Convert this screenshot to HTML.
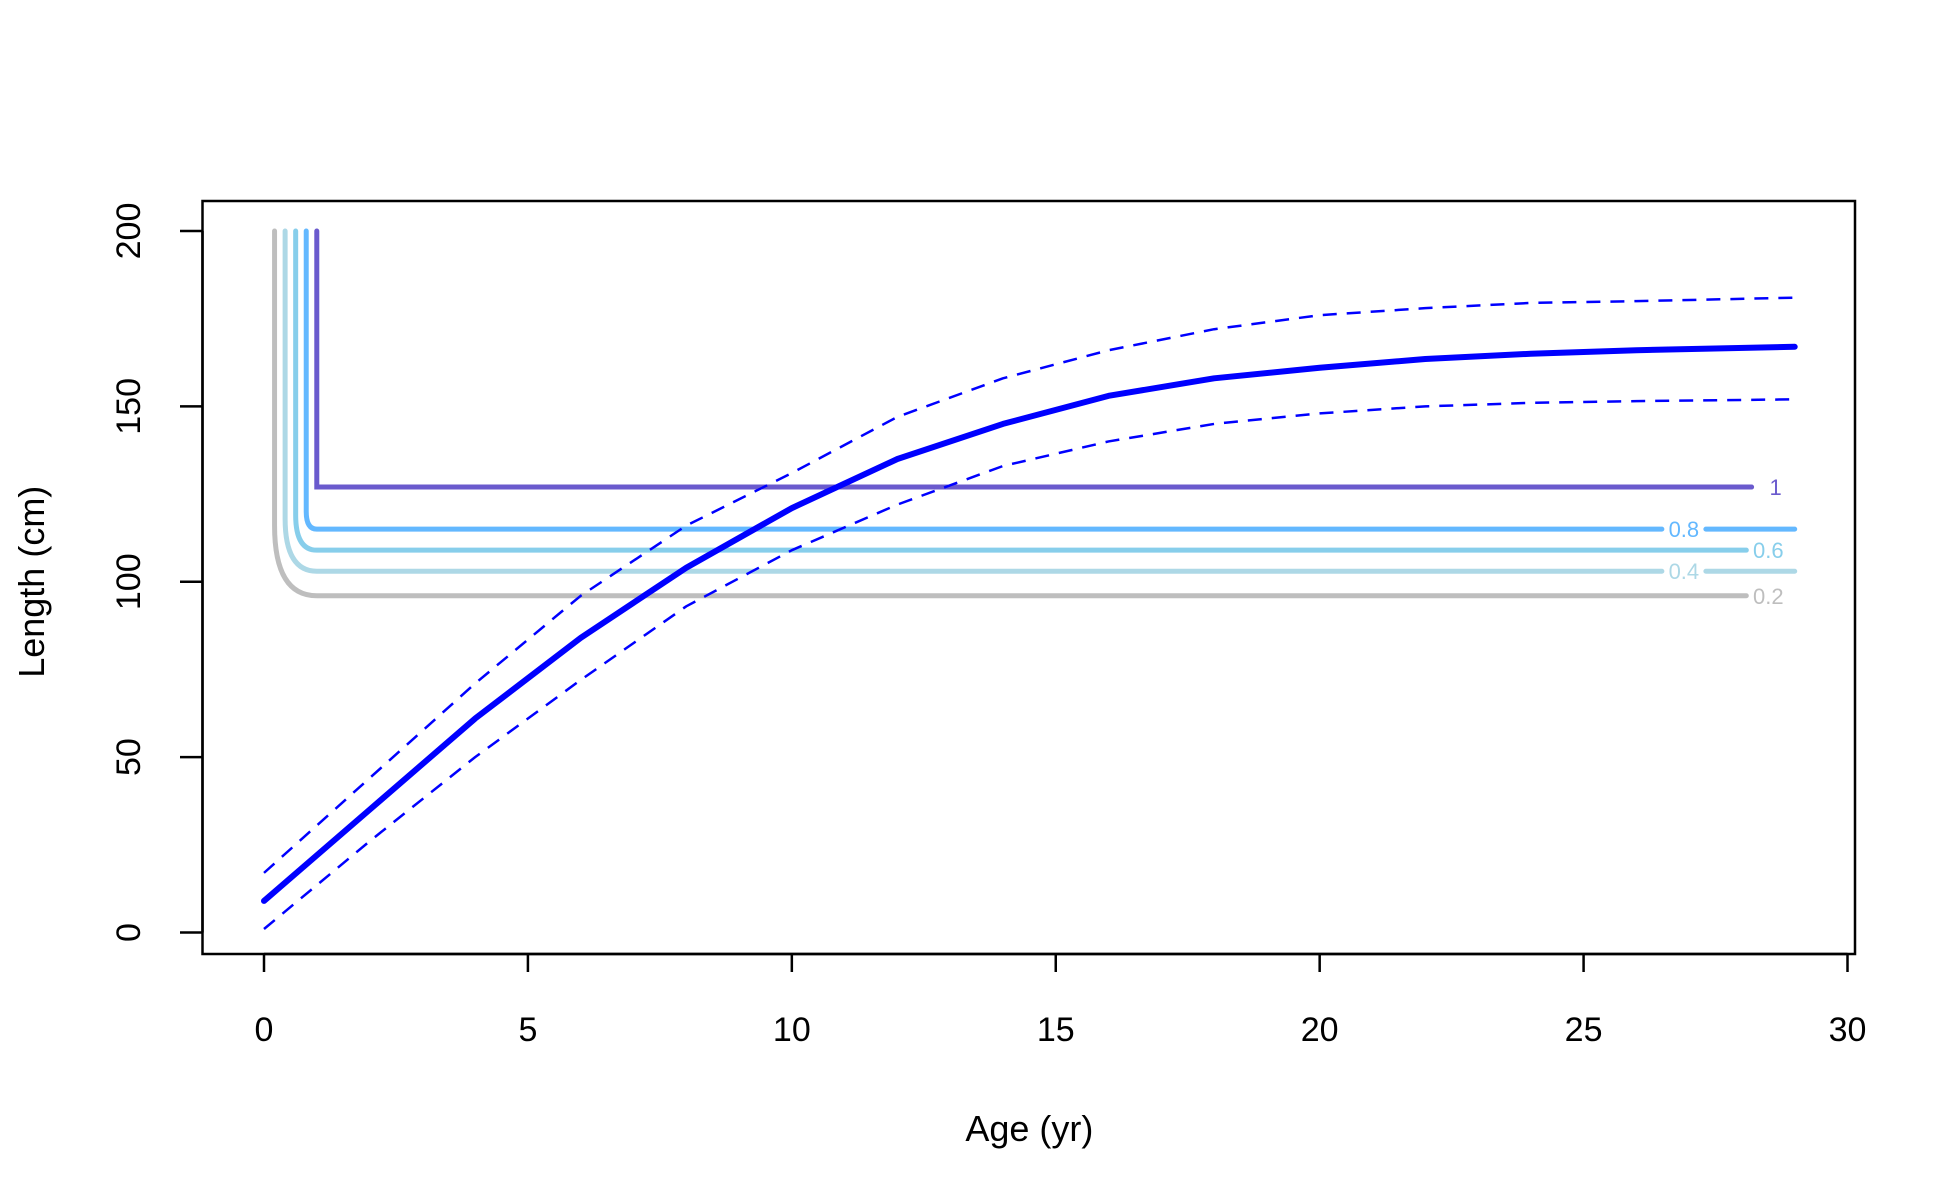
<!DOCTYPE html>
<html><head><meta charset="utf-8"><style>body{margin:0;background:#fff}svg{display:block}text{font-family:"Liberation Sans",Arial,sans-serif}</style></head>
<body>
<svg id="chart" width="1950" height="1200" viewBox="0 0 1950 1200" xmlns="http://www.w3.org/2000/svg">
<rect x="0" y="0" width="1950" height="1200" fill="#fff"/>
<g id="plot"></g>
</svg>
<script>
const ages=[0,2,4,6,8,10,12,14,16,18,20,22,24,26,29];
const meanLen=[9,35,61,84,104,121,135,145,153,158,161,163.5,165,166,167];
const upperLen=[17,44,71,96,116,131,147,158,166,172,176,178,179.5,180,181];
const lowerLen=[1,26,50,72,93,109,122,133,140,145,148,150,151,151.5,152];
const selLabels=["0.2","0.4","0.6","0.8","1"];
const selStartAge=[0.2,0.4,0.6,0.8,1.0];
const selLevel=[96,103,109,115,127];
const selColors=["#bebebe","#add8e6","#87ceeb","#63b8ff","#6a5acd"];
const selLabelAge=[28.5,26.9,28.5,26.9,28.6];
const selGap=[false,true,false,true,false];
const xTicks=[0,5,10,15,20,25,30];
const yTicks=[0,50,100,150,200];

const X=a=>264+a*(1847.5-264)/30;
const Y=v=>932.5-v*(932.5-231)/200;
const NS="http://www.w3.org/2000/svg";
const g=document.getElementById('plot');
function el(t,at,name){const e=document.createElementNS(NS,t);for(const k in at)e.setAttribute(k,at[k]);


g.appendChild(e);return e;}

// box
el('rect',{x:202.5,y:201,width:1652.5,height:753,fill:'none',stroke:'#000','stroke-width':2.5},'plot-frame');
// x axis
el('line',{x1:X(0),x2:X(30),y1:954,y2:954,stroke:'#000','stroke-width':2.5},'x-axis-line');
xTicks.forEach(t=>{
 el('line',{x1:X(t),x2:X(t),y1:954,y2:972,stroke:'#000','stroke-width':2.5},'x-tick');
 const tx=el('text',{x:X(t),y:1041,'font-size':34,'text-anchor':'middle'},'x-tick-label');tx.textContent=t;
});
// y axis
el('line',{x1:202.5,x2:202.5,y1:Y(0),y2:Y(200),stroke:'#000','stroke-width':2.5},'y-axis-line');
yTicks.forEach(t=>{
 el('line',{x1:180,x2:202.5,y1:Y(t),y2:Y(t),stroke:'#000','stroke-width':2.5},'y-tick');
 const tx=el('text',{x:0,y:0,'font-size':34,'text-anchor':'middle',transform:`translate(140,${Y(t)}) rotate(-90)`},'y-tick-label');tx.textContent=t;
});
const xt=el('text',{x:X(14.5),y:1141,'font-size':36,'text-anchor':'middle'},'x-axis-title');xt.textContent='Age (yr)';
const yt=el('text',{x:0,y:0,'font-size':36,'text-anchor':'middle',transform:`translate(44,${Y(100)}) rotate(-90)`},'y-axis-title');yt.textContent='Length (cm)';

// selectivity curves
selLabels.forEach((lab,i)=>{
 const x0=X(selStartAge[i]),x1=X(1),lv=Y(selLevel[i]);
 const bend=Y(selLevel[i]+25*(1-selStartAge[i]));
 const lx=X(selLabelAge[i]);
 let d=`M${x0},${Y(200)} L${x0},${bend} Q${x0},${lv} ${x1},${lv} L${lx-22},${lv}`;
 if(selGap[i]) d+=` M${lx+22},${lv} L${X(29)},${lv}`;
 el('path',{d:d,fill:'none',stroke:selColors[i],'stroke-width':5,'stroke-linecap':'round'},'selectivity-curve-'+lab);
 const t=el('text',{x:lx+(lab==='1'?2:0),y:lv+8,'font-size':22,'text-anchor':'middle',fill:selColors[i]},'selectivity-label');t.textContent=lab;
});

function line(arr,name,w,dash){
 const d=ages.map((a,i)=>(i?'L':'M')+X(a)+','+Y(arr[i])).join(' ');
 const at={d:d,fill:'none',stroke:'#0000ff','stroke-width':w,'stroke-linecap':'round','stroke-linejoin':'round'};
 if(dash){at['stroke-dasharray']=dash;at['stroke-linecap']='butt';}
 el('path',at,name);
}
line(upperLen,'upper-ci-line',2.5,'14 10');
line(lowerLen,'lower-ci-line',2.5,'14 10');
line(meanLen,'mean-length-line',6);
</script>
</body></html>
